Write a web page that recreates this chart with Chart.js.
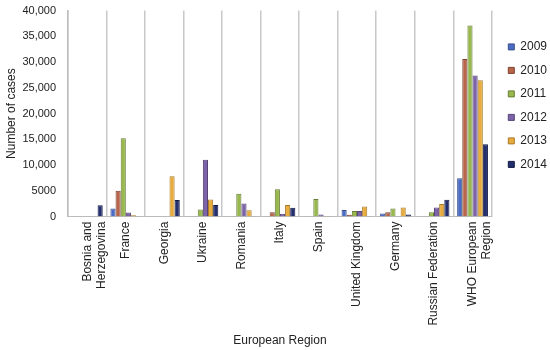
<!DOCTYPE html>
<html>
<head>
<meta charset="utf-8">
<script src="https://cdn.jsdelivr.net/npm/chart.js@4"></script>
<style>
  html, body { margin: 0; padding: 0; background: #fff; }
  #wrap { width: 550px; height: 350px; }
</style>
</head>
<body>
<div id="wrap"><canvas id="chart"></canvas></div>
<script>
var countries = [
    ['Bosnia and', 'Herzegovina'], 'France', 'Georgia', 'Ukraine', 'Romania', 'Italy',
    'Spain', 'United Kingdom', 'Germany', 'Russian Federation', ['WHO European', 'Region']
];
var years = ['2009', '2010', '2011', '2012', '2013', '2014'];

var cases2009 = [40, 1550, 40, 40, 40, 40, 40, 1250, 600, 40, 7450];
var cases2010 = [40, 5000, 40, 40, 40, 850, 60, 350, 850, 60, 30600];
var cases2011 = [40, 15200, 40, 1350, 4450, 5300, 3400, 1100, 1550, 850, 37100];
var cases2012 = [40, 800, 40, 11050, 2550, 550, 400, 1100, 60, 1750, 27400];
var cases2013 = [40, 250, 7850, 3300, 1200, 2250, 100, 1950, 1750, 2450, 26450];
var cases2014 = [2200, 60, 3200, 2250, 60, 1700, 40, 40, 400, 3250, 14050];

var yTicks = [0, 5000, 10000, 15000, 20000, 25000, 30000, 35000, 40000];

var fills = ['#4a6cc4', '#b8654a', '#98b84e', '#7d63a8', '#e8ac3c', '#232f6e'];
var edges = ['#3a4f8a', '#7e4030', '#687e36', '#574478', '#a87a28', '#121a44'];

var series = [cases2009, cases2010, cases2011, cases2012, cases2013, cases2014];
var datasets = series.map(function(vals, i) {
    return {
        label: years[i],
        data: vals,
        backgroundColor: fills[i],
        borderColor: edges[i],
        borderWidth: 1
    };
});

var ctx = document.getElementById('chart').getContext('2d');
new Chart(ctx, {
    type: 'bar',
    data: { labels: countries, datasets: datasets },
    options: {
        responsive: true,
        maintainAspectRatio: false,
        animation: false,
        layout: { padding: { top: -4, right: -7, left: 4, bottom: 2 } },
        datasets: { bar: { categoryPercentage: 0.8, barPercentage: 1.0 } },
        plugins: {
            legend: {
                position: 'right',
                align: 'start',
                // empty title just to push the items down
                title: { display: true, text: ' ', padding: { top: 19, bottom: 0 } },
                labels: {
                    color: '#222',
                    font: { family: 'Liberation Sans', size: 12 },
                    boxWidth: 6,
                    boxHeight: 6,
                    padding: 11.5
                }
            },
            tooltip: { enabled: false }
        },
        scales: {
            x: {
                grid: { display: true, offset: true, color: '#c8c8c8', lineWidth: 1.5, drawTicks: false },
                border: { display: true, color: '#bdbdbd' },
                ticks: {
                    color: '#222',
                    font: { family: 'Liberation Sans', size: 12 },
                    maxRotation: 90,
                    minRotation: 90,
                    autoSkip: false,
                    padding: 5
                },
                title: {
                    display: true,
                    text: 'European Region',
                    color: '#222',
                    font: { family: 'Liberation Sans', size: 12 },
                    padding: { top: 3, bottom: 0 }
                }
            },
            y: {
                min: 0,
                max: 40000,
                afterBuildTicks: function(axis) {
                    axis.ticks = yTicks.map(function(v) { return { value: v }; });
                },
                grid: { display: false },
                border: { display: true, color: '#bdbdbd', width: 1.5 },
                ticks: {
                    color: '#222',
                    font: { family: 'Liberation Sans', size: 11 },
                    padding: 4,
                    callback: function(v) {
                        return v >= 10000 ? v.toLocaleString('en-US') : String(v);
                    }
                },
                title: {
                    display: true,
                    text: 'Number of cases',
                    color: '#222',
                    font: { family: 'Liberation Sans', size: 12 },
                    padding: { top: 0, bottom: 0 }
                }
            },
            // blank spacer between the plot and the legend
            gap: {
                type: 'linear',
                position: 'right',
                display: true,
                grid: { display: false },
                border: { display: false },
                ticks: { display: false },
                afterFit: function(scale) { scale.width = 5; }
            }
        }
    }
});
</script>
</body>
</html>
